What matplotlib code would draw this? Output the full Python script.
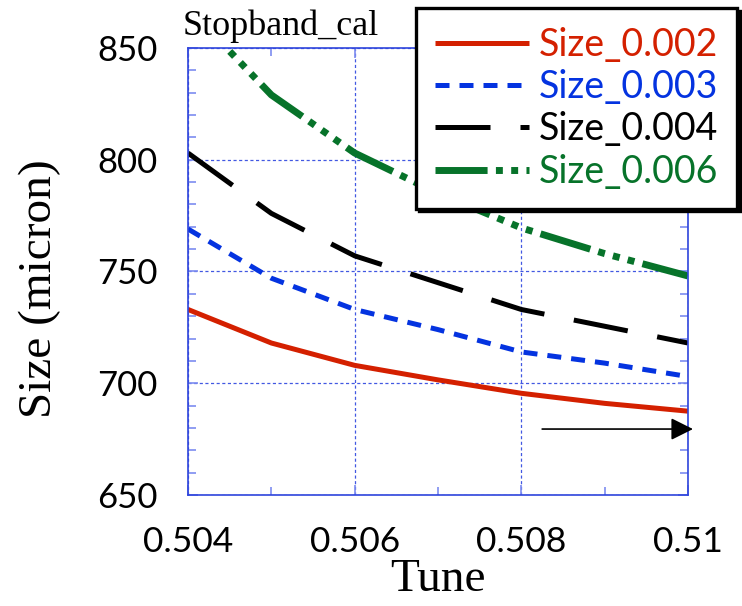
import matplotlib
matplotlib.use('Agg')
import matplotlib.pyplot as plt
from matplotlib.ticker import MultipleLocator

# values
tune = [0.504, 0.505, 0.506, 0.507, 0.508, 0.509, 0.510]
size_002 = [733, 718, 708, 701.5, 695.5, 691, 687.5]
size_003 = [769, 747, 733, 724, 714, 709, 703]
size_004 = [803, 776, 757, 745, 733, 725.5, 718]
size_006 = [868, 829, 803, 785, 769.5, 758, 748]
labels = ['Size_0.002', 'Size_0.003', 'Size_0.004', 'Size_0.006']
xticks = [0.504, 0.506, 0.508, 0.510]
xticklabels = ['0.504', '0.506', '0.508', '0.51']
yticks = [650, 700, 750, 800, 850]

# arrow in the lower right corner (data coords)
arrow_start = (0.50825, 679.5)
arrow_end = (0.51006, 679.5)

red = '#d42000'
blue = '#0433e0'
green = '#07732a'
axblue = '#2f45dc'

fig = plt.figure(figsize=(7.42, 6.06), dpi=100)
ax = fig.add_axes([0.2534, 0.1832, 0.6738, 0.7376])

lw = 3.6
ax.plot(tune, size_002, color=red, lw=lw, label=labels[0], solid_capstyle='butt')
ax.plot(tune, size_003, color=blue, lw=lw, linestyle=(0, (2.8, 2)), label=labels[1])
ax.plot(tune, size_004, color='black', lw=lw, linestyle=(0, (11, 6)), label=labels[2])
ax.plot(tune, size_006, color=green, lw=5, linestyle=(0, (7.5, 1.2, 1, 1.2, 1, 1.2, 1, 1.2)),
        label=labels[3])

ax.annotate('', xy=arrow_end, xytext=arrow_start,
            arrowprops=dict(arrowstyle='-|>', color='black', lw=1.2,
                            mutation_scale=34, shrinkA=0, shrinkB=0),
            annotation_clip=False)

ax.set_xlim(0.504, 0.510)
ax.set_ylim(650, 850)
ax.set_xticks(xticks)
ax.set_xticklabels(xticklabels)
ax.set_yticks(yticks)
ax.xaxis.set_minor_locator(MultipleLocator(0.001))
ax.yaxis.set_minor_locator(MultipleLocator(10))

ax.grid(which='major', color='#4258e2', linestyle=(0, (2.5, 2)), lw=0.9)
for s in ax.spines.values():
    s.set_color(axblue)
    s.set_linewidth(1.2)

ax.tick_params(which='both', direction='in', top=True, right=True,
               color='#7d8cf0', width=1.2)
ax.tick_params(which='major', length=7)
ax.tick_params(which='minor', length=6)
ax.tick_params(axis='y', pad=22, labelsize=25)
ax.tick_params(axis='x', pad=22, labelsize=25.5)
for t in ax.get_xticklabels() + ax.get_yticklabels():
    t.set_fontfamily('Lato')

ax.set_xlabel('Tune', fontfamily='Liberation Serif', fontsize=34, labelpad=1)
ax.set_ylabel('Size (micron)', fontfamily='Liberation Serif', fontsize=34)
ax.yaxis.set_label_coords(-0.254, 0.461)
ax.text(-0.01, 1.012, 'Stopband_cal', transform=ax.transAxes, ha='left', va='bottom',
        fontfamily='Liberation Serif', fontsize=26)

leg = fig.legend(loc='upper right', bbox_to_anchor=(0.9933, 0.9868), borderaxespad=0,
                 prop={'family': 'Lato', 'size': 27}, handlelength=2.5,
                 handletextpad=0.27, labelspacing=0.17, borderpad=0.5,
                 fancybox=False, framealpha=1, edgecolor='black',
                 shadow={'color': 'black', 'alpha': 1})
leg.get_frame().set_linewidth(2.4)
for txt, c in zip(leg.get_texts(), [red, blue, 'black', green]):
    txt.set_color(c)

fig.savefig('out.png', dpi=100)
